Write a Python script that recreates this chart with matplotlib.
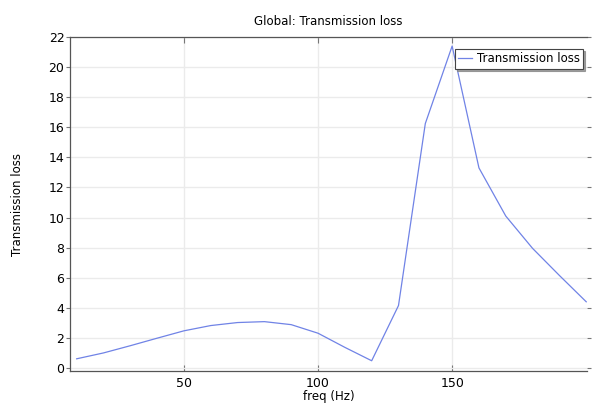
import matplotlib
matplotlib.use("Agg")
import matplotlib.pyplot as plt

freq = [10, 20, 30, 40, 50, 60, 70, 80, 90, 100, 110, 120, 130, 140, 150, 160, 170, 180, 190, 200]
tl = [0.61, 1.0, 1.48, 1.98, 2.47, 2.82, 3.02, 3.08, 2.88, 2.31, 1.37, 0.48, 4.15, 16.25, 21.4, 13.3, 10.1, 7.95, 6.15, 4.4]
xticks = [50, 100, 150]
yticks = list(range(0, 23, 2))

plt.rcParams['font.family'] = ['DejaVu Sans']
fig = plt.figure(figsize=(5.92, 4.07), dpi=100)
ax = fig.add_axes([0.1182, 0.0885, 0.8734, 0.8205])

ax.plot(freq, tl, color='#7083e6', lw=0.9, label='Transmission loss')
ax.set_xlim(7.5, 200.3)
ax.set_ylim(-0.2, 22)
ax.set_xticks(xticks)
ax.set_yticks(yticks)
ax.grid(True, color='#ebebeb', lw=1.0)
ax.set_axisbelow(True)

for s in ['left', 'bottom', 'top']:
    ax.spines[s].set_color('#555555')
    ax.spines[s].set_linewidth(0.9)
ax.spines['right'].set_visible(False)

ax.tick_params(axis='x', direction='in', top=True, length=4, color='#777777', labelsize=9, pad=4)
ax.tick_params(axis='y', direction='out', right=True, length=3, color='#777777', labelsize=9, pad=1)

ax.set_title('Global: Transmission loss', fontsize=8.5, pad=9)
ax.set_xlabel('freq (Hz)', fontsize=8.5, labelpad=0)
ax.set_ylabel('Transmission loss', fontsize=8.5, labelpad=18)

leg = ax.legend(loc='upper right', bbox_to_anchor=(0.997, 0.972), fontsize=8.5, frameon=True,
                fancybox=False, shadow={'ox': 1.5, 'oy': -1.5, 'color': '#888888', 'alpha': 0.8},
                borderpad=0.3, handlelength=1.2, handletextpad=0.35, borderaxespad=0.2)
leg.get_frame().set_edgecolor('#444444')
leg.get_frame().set_linewidth(0.8)

fig.savefig('out.png', dpi=100)
